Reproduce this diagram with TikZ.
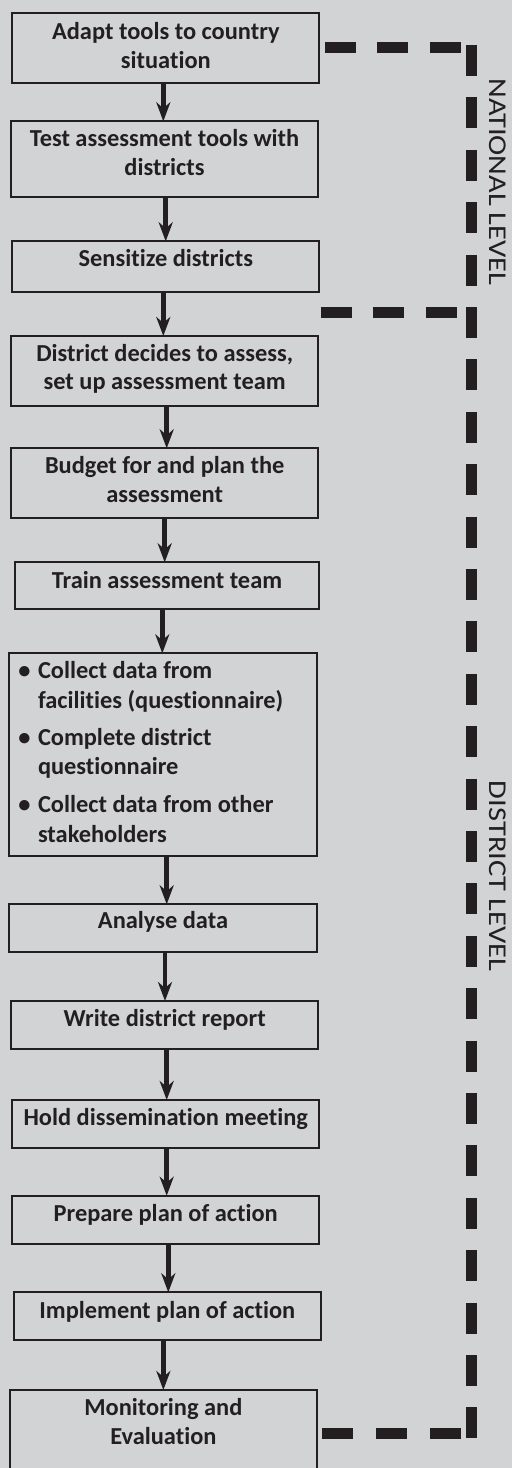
\documentclass[tikz,border=0pt]{standalone}
\usepackage{fontspec}
\setmainfont[RawFeature={-liga;-calt;-dlig}]{Carlito}
\newfontfamily\lblfont[RawFeature={-liga;-calt;-dlig}]{Carlito}
\usetikzlibrary{arrows.meta}
\definecolor{bg}{RGB}{209,211,212}
\definecolor{ink}{RGB}{35,31,32}
\newcommand{\fl}{\rule{0pt}{20bp}}
\begin{document}
\begin{tikzpicture}[x=1bp,y=-1bp,
  box/.style={draw=ink, line width=1.8bp, rectangle, inner sep=0, outer sep=0},
  txt/.style={text=ink, font=\bfseries\fontsize{24.5pt}{29.1pt}\selectfont, align=center, inner sep=0, outer sep=0, anchor=north},
  btxt/.style={text=ink, font=\bfseries\fontsize{24.5pt}{30pt}\selectfont, align=left, inner sep=0, outer sep=0, anchor=north west},
  bul/.style={text=ink, font=\bfseries\fontsize{24.5pt}{30pt}\selectfont, inner sep=0, outer sep=0, anchor=base},
  arr/.style={draw=ink, line width=4.5bp, -{Stealth[length=19bp,width=14bp,inset=6bp]}},
  dsh/.style={draw=ink, line width=10.5bp, dash pattern=on 31bp off 21.4bp},
  lbl/.style={text=ink, font=\lblfont\fontsize{25.7pt}{30pt}\selectfont, inner sep=0, outer sep=0, rotate=-90}]
\path[use as bounding box, fill=bg] (0,0) rectangle (512,1468);
\clip (0,0) rectangle (512,1468);
% boxes
\node[box, minimum width=307bp, minimum height=70bp] (b1) at (165.8,48.3) {};
\node[box, minimum width=307.6bp, minimum height=76bp] (b2) at (164.5,159.3) {};
\node[box, minimum width=307bp, minimum height=51bp] (b3) at (165.8,266.8) {};
\node[box, minimum width=307.3bp, minimum height=69.7bp] (b4) at (164.7,370.85) {};
\node[box, minimum width=307.3bp, minimum height=69.4bp] (b5) at (164.7,483) {};
\node[box, minimum width=304.6bp, minimum height=46.7bp] (b6) at (167,585.65) {};
\node[box, minimum width=307.4bp, minimum height=202.7bp] (b7) at (163,754.65) {};
\node[box, minimum width=307.4bp, minimum height=47.4bp] (b8) at (163,928) {};
\node[box, minimum width=307.3bp, minimum height=48bp] (b9) at (164.7,1025) {};
\node[box, minimum width=307.3bp, minimum height=48.3bp] (b10) at (165.7,1124.15) {};
\node[box, minimum width=307.3bp, minimum height=48.3bp] (b11) at (165.7,1219.85) {};
\node[box, minimum width=307.3bp, minimum height=47.7bp] (b12) at (167.35,1316.15) {};
\node[box, minimum width=306.7bp, minimum height=100bp] (b13) at (163.35,1440) {};
% texts
\node[txt] (t1) at (165.8,19.3) {\fl Adapt tools to country\\situation};
\node[txt] (t2) at (164.5,126.7) {\fl Test assessment tools with\\districts};
\node[txt] (t3) at (165.8,246.7) {\fl Sensitize districts};
\node[txt] (t4) at (164.7,341) {\fl District decides to assess,\\set up assessment team};
\node[txt] (t5) at (164.7,453.3) {\fl Budget for and plan the\\assessment};
\node[txt] (t6) at (167,568.3) {\fl Train assessment team};
\node[bul] (u1) at (24.5,678.3) {•};
\node[btxt] (s1) at (38,658.3) {\fl Collect data from\\facilities (questionnaire)};
\node[bul] (u2) at (24.5,745) {•};
\node[btxt] (s2) at (38,725) {\fl Complete district\\questionnaire};
\node[bul] (u3) at (24.5,812.7) {•};
\node[btxt] (s3) at (38,792.7) {\fl Collect data from other\\stakeholders};
\node[txt] (t8) at (163,908.3) {\fl Analyse data};
\node[txt] (t9) at (164.7,1006.7) {\fl Write district report};
\node[txt] (t10) at (165.7,1105) {\fl Hold dissemination meeting};
\node[txt] (t11) at (165.7,1201.7) {\fl Prepare plan of action};
\node[txt] (t12) at (167.35,1298.3) {\fl Implement plan of action};
\node[txt] (t13) at (163.35,1395) {\fl Monitoring and\\Evaluation};
% arrows
\draw[arr] ([xshift=-2.5bp]b1.south) -- ([xshift=-2.5bp]b1.south |- b2.north);
\draw[arr] ([xshift=1.2bp]b2.south) -- ([xshift=1.2bp]b2.south |- b3.north);
\draw[arr] ([xshift=-2.5bp]b3.south) -- ([xshift=-2.5bp]b3.south |- b4.north);
\draw[arr] ([xshift=2bp]b4.south) -- ([xshift=2bp]b4.south |- b5.north);
\draw[arr] (b5.south) -- (b5.south |- b6.north);
\draw[arr] ([xshift=-4.7bp]b6.south) -- ([xshift=-4.7bp]b6.south |- b7.north);
\draw[arr] ([xshift=3.7bp]b7.south) -- ([xshift=3.7bp]b7.south |- b8.north);
\draw[arr] ([xshift=2bp]b8.south) -- ([xshift=2bp]b8.south |- b9.north);
\draw[arr] ([xshift=2bp]b9.south) -- ([xshift=2bp]b9.south |- b10.north);
\draw[arr] ([xshift=1bp]b10.south) -- ([xshift=1bp]b10.south |- b11.north);
\draw[arr] ([xshift=2.6bp]b11.south) -- ([xshift=2.6bp]b11.south |- b12.north);
\draw[arr] ([xshift=-4bp]b12.south) -- ([xshift=-4bp]b12.south |- b13.north);
% dashed level brackets
\coordinate (cTop) at (471.7,45);
\coordinate (cBot) at (471.7,1438.4);
\coordinate (mL) at (320.7,312.7);
\coordinate (mR) at (462,312.7);
\draw[dsh] ([xshift=5.7bp]b1.east |- 0,47.7) -- (462,47.7);
\draw[dsh] (cTop) -- (cBot);
\draw[dsh] (mL) -- (mR);
\draw[dsh, dash pattern=on 31bp off 23bp] ([xshift=5bp]b13.east |- 0,1433.3) -- (462,1433.3);
% level labels
\node[lbl] (lnat) at (498,182) {\scalebox{1.19}[1]{NATIONAL LEVEL}};
\node[lbl] (ldis) at (498,876) {\scalebox{1.19}[1]{DISTRICT LEVEL}};
\end{tikzpicture}
\end{document}
